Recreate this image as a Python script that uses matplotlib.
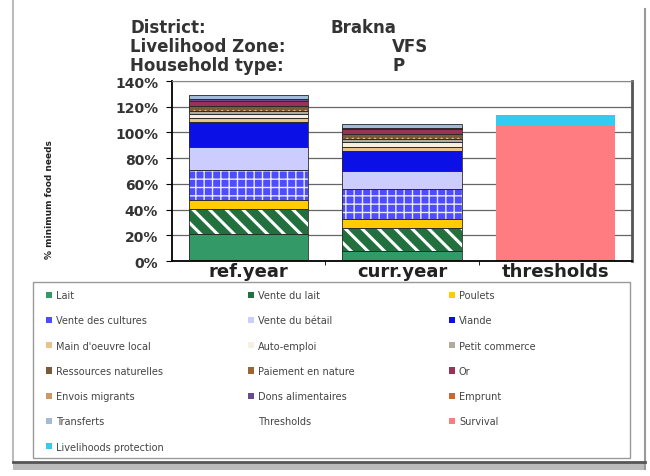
import matplotlib.pyplot as plt
from matplotlib.patches import Patch, Rectangle
from matplotlib.lines import Line2D
from matplotlib.ticker import FuncFormatter
import numpy as np

categories = ['ref.year', 'curr.year', 'thresholds']

sources = ['Lait', 'Vente du lait', 'Poulets', 'Vente des cultures', 'Vente du bétail',
           'Viande', "Main d'oeuvre local", 'Auto-emploi', 'Petit commerce',
           'Ressources naturelles', 'Paiement en nature', 'Or', 'Envois migrants',
           'Dons alimentaires', 'Emprunt', 'Transferts', 'Survival',
           'Livelihoods protection']

# % of minimum food needs, bottom to top
ref_year = [21, 19.4, 7.3, 23.3, 17.4, 19.9, 3, 3, 2, 4, 0, 4, 0, 2, 0, 3, 0, 0]
curr_year = [8, 17.4, 7.3, 23.3, 14.2, 15.6, 3, 4, 2, 4, 0, 4, 0, 1, 0, 2.5, 0, 0]
thresholds = [0] * 16 + [105.2, 8.3]

faces = ['#339966', '#23703f', '#ffcc00', '#4d4dff', '#ccccff', '#0a10e6',
         '#e8c38c', '#f6f0e2', '#b2aa9a', '#7a5a3a', '#996633', '#993355',
         '#cc9966', '#6a4a8a', '#cc6633', '#a3bbd6', '#ff7c80', '#33ccee']
hatches = [None, '\\\\', None, '++', None, None, None, None, None, '...', None, None,
           None, None, None, None, None, None]
hatch_cols = {1: 'white', 3: '#e8e8ff', 9: '#d8b888'}
hatch_lws = {1: 2.2, 3: 1.0, 9: 1.0}

plt.rcParams['font.family'] = 'DejaVu Sans'

fig = plt.figure(figsize=(6.5, 4.77), dpi=100)
ax = fig.add_axes([172 / 650, 1 - 262 / 477, 460 / 650, 180 / 477])

x = np.arange(len(categories))
bottom = np.zeros(len(categories))
for i, name in enumerate(sources):
    vals = np.array([ref_year[i], curr_year[i], thresholds[i]])
    plt.rcParams['hatch.linewidth'] = hatch_lws.get(i, 1.0)
    bars = ax.bar(x, vals, 0.78, bottom=bottom, color=faces[i], hatch=hatches[i],
                  edgecolor=hatch_cols.get(i, faces[i]), linewidth=0, zorder=2)
    if i < 16:
        ax.bar(x[:2], vals[:2], 0.78, bottom=bottom[:2], fill=False,
               edgecolor='#2a2a2a', linewidth=0.6, zorder=3)
    bottom += vals

ax.set_xlim(-0.5, 2.5)
ax.set_ylim(0, 140)
ax.set_yticks(np.arange(0, 141, 20))
ax.yaxis.set_major_formatter(FuncFormatter(lambda v, p: f'{v:.0f}%'))
ax.set_xticks(x)
ax.set_xticklabels(categories, fontsize=13, fontweight='bold', color='#222222')
ax.set_xticks([0.5, 1.5], minor=True)
ax.tick_params(axis='x', which='major', length=0, pad=1)
ax.tick_params(axis='x', which='minor', length=3)
ax.tick_params(axis='y', length=4, labelsize=10, pad=6)
for t in ax.get_yticklabels():
    t.set_fontweight('bold')
    t.set_color('#333333')
ax.yaxis.grid(True, color='#666666', linewidth=0.9, zorder=0)
ax.set_axisbelow(True)
ax.spines['left'].set_linewidth(1.3)
ax.spines['bottom'].set_linewidth(1.3)
ax.spines['top'].set_color('#888888')
ax.spines['right'].set_color('#555555')
ax.spines['right'].set_linewidth(2)

fig.text(50 / 650, 1 - 200 / 477, '% minimum food needs', rotation=90,
         fontsize=6.5, fontweight='bold', color='#222222', ha='center', va='center')

# header
for row, (k, v, vx) in enumerate([('District:', 'Brakna', 330),
                                  ('Livelihood Zone:', 'VFS', 392),
                                  ('Household type:', 'P', 392)]):
    yy = 1 - (28 + row * 19) / 477
    fig.text(130 / 650, yy, k, fontsize=12, fontweight='bold', color='#333333', va='center')
    fig.text(vx / 650, yy, v, fontsize=12, fontweight='bold', color='#333333', va='center')

# legend, three columns filled row by row
plt.rcParams['hatch.linewidth'] = 1.0
entries = []
for i, name in enumerate(sources[:16]):
    entries.append((Patch(facecolor=faces[i], edgecolor=faces[i], linewidth=0), name))
entries.append((Patch(facecolor='none', edgecolor='none'), 'Thresholds'))
entries.append((Patch(facecolor=faces[16], linewidth=0), sources[16]))
entries.append((Patch(facecolor=faces[17], linewidth=0), sources[17]))

fig.patches.append(Rectangle((33 / 650, 1 - 459 / 477), 597 / 650, 176 / 477,
                             transform=fig.transFigure, fill=False,
                             edgecolor='#999999', linewidth=1))
for c, cx in enumerate([38, 240, 441]):
    col = entries[c::3]
    leg = fig.legend([e[0] for e in col], [e[1] for e in col],
                     loc='upper left', bbox_to_anchor=(cx / 650, 1 - 283 / 477),
                     frameon=False, fontsize=7, labelspacing=1.57, borderpad=0.84,
                     handlelength=0.6, handleheight=0.6, handletextpad=0.4,
                     borderaxespad=0)
    for t in leg.get_texts():
        t.set_color('#444444')

# page edges
fig.add_artist(Line2D([13 / 650, 13 / 650], [1 - 463 / 477, 1], color='#bbbbbb', lw=1.5))
fig.add_artist(Line2D([645 / 650, 645 / 650], [1 - 470 / 477, 1 - 10 / 477], color='#999999', lw=1.5))
fig.add_artist(Line2D([13 / 650, 645 / 650], [1 - 463 / 477, 1 - 463 / 477], color='#555555', lw=2))
fig.patches.append(Rectangle((13 / 650, 1 - 471 / 477), 632 / 650, 7 / 477,
                             transform=fig.transFigure, color='#bbbbbb', linewidth=0))

fig.savefig('out.png', dpi=100)
